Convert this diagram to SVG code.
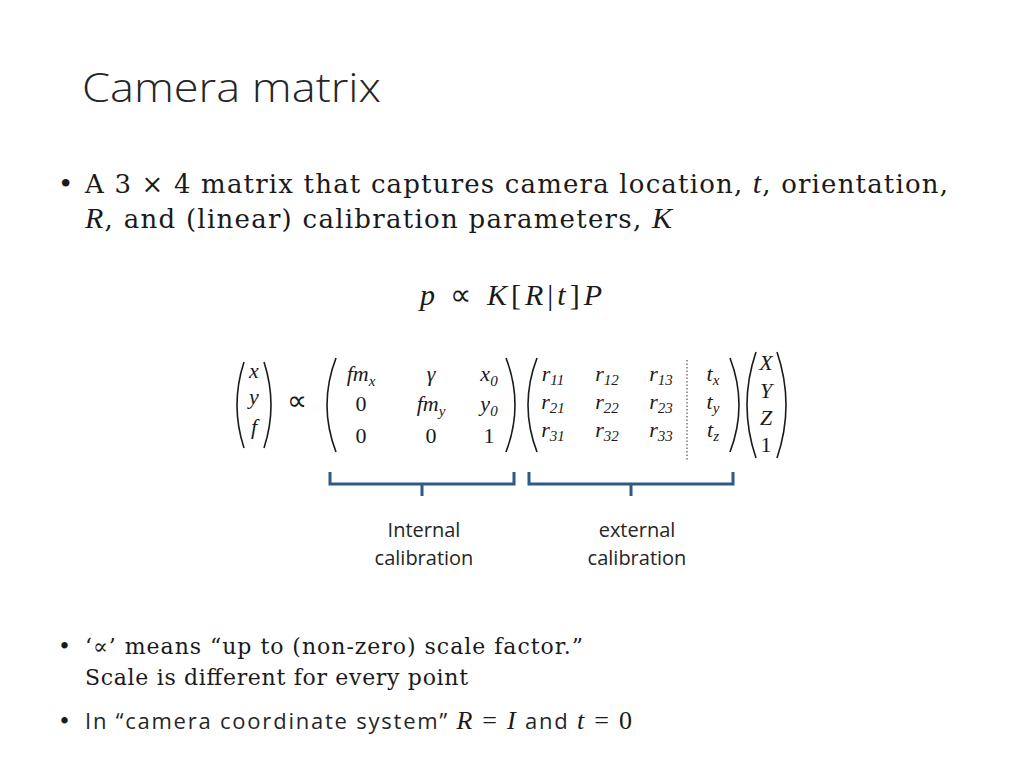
<svg xmlns="http://www.w3.org/2000/svg" width="1024" height="768" viewBox="0 0 1024 768">
<style>
.t{font-family:"Open Sans","Liberation Sans",sans-serif;fill:#262626}
.s{font-family:"DejaVu Serif","Liberation Serif",serif;fill:#1a1a1a}
.m{font-family:"Liberation Serif",serif;font-style:italic;fill:#1a1a1a}
.n{font-family:"Liberation Serif",serif;fill:#1a1a1a}
.p{fill:none;stroke:#1a1a1a;stroke-width:1.6}
.b{fill:none;stroke:#2f5a88;stroke-width:3}
.sb{font-size:15px}
</style>
<rect width="1024" height="768" fill="#fff"/>
<text class="t" x="82" y="102" font-size="40" font-weight="300" textLength="299" lengthAdjust="spacingAndGlyphs">Camera matrix</text>
<g font-size="26">
<text class="s" x="58" y="193">•</text>
<text class="s" x="85" y="193" textLength="863">A 3 × 4 matrix that captures camera location, <tspan class="m" font-size="30">t</tspan>, orientation,</text>
<text class="s" x="85" y="228" textLength="587"><tspan class="m" font-size="30">R</tspan>, and (linear) calibration parameters, <tspan class="m" font-size="30">K</tspan></text>
<text class="n" x="420" y="305" font-size="30" textLength="182"><tspan class="m">p</tspan> ∝ <tspan class="m">K</tspan>[<tspan class="m">R</tspan>|<tspan class="m">t</tspan>]<tspan class="m">P</tspan></text>
</g>
<g font-size="22" text-anchor="middle">
<text class="m" x="254" y="378">x</text><text class="m" x="254" y="404">y</text><text class="m" x="254" y="434">f</text>
<path class="p" d="M244 362 Q230 405 244 448"/><path class="p" d="M264 362 Q278 405 264 448"/>
<text class="n" x="297" y="410" font-size="28">∝</text>
<path class="p" d="M336 358 Q318 405 336 452"/><path class="p" d="M506 358 Q524 405 506 452"/>
<text class="m" x="361" y="381">fm<tspan class="sb" dy="5">x</tspan></text>
<text class="m" x="431" y="381">γ</text>
<text class="m" x="489" y="381">x<tspan class="sb n" dy="5">0</tspan></text>
<text class="n" x="361" y="411">0</text>
<text class="m" x="431" y="411">fm<tspan class="sb" dy="5">y</tspan></text>
<text class="m" x="489" y="411">y<tspan class="sb n" dy="5">0</tspan></text>
<text class="n" x="361" y="443">0</text><text class="n" x="431" y="443">0</text><text class="n" x="489" y="443">1</text>
<path class="p" d="M537 358 Q519 405 537 452"/><path class="p" d="M730 358 Q748 405 730 452"/>
<text class="m" x="553" y="381">r<tspan class="sb n" dy="4">11</tspan></text>
<text class="m" x="607" y="381">r<tspan class="sb n" dy="4">12</tspan></text>
<text class="m" x="661" y="381">r<tspan class="sb n" dy="4">13</tspan></text>
<text class="m" x="713" y="381">t<tspan class="sb" dy="4">x</tspan></text>
<text class="m" x="553" y="409">r<tspan class="sb n" dy="4">21</tspan></text>
<text class="m" x="607" y="409">r<tspan class="sb n" dy="4">22</tspan></text>
<text class="m" x="661" y="409">r<tspan class="sb n" dy="4">23</tspan></text>
<text class="m" x="713" y="409">t<tspan class="sb" dy="4">y</tspan></text>
<text class="m" x="553" y="437">r<tspan class="sb n" dy="4">31</tspan></text>
<text class="m" x="607" y="437">r<tspan class="sb n" dy="4">32</tspan></text>
<text class="m" x="661" y="437">r<tspan class="sb n" dy="4">33</tspan></text>
<text class="m" x="713" y="437">t<tspan class="sb" dy="4">z</tspan></text>
<line x1="687" y1="360" x2="687" y2="460" stroke="#333" stroke-width="1" stroke-dasharray="1.5 2"/>
<path class="p" d="M756 352 Q738 405 756 458"/><path class="p" d="M777 352 Q795 405 777 458"/>
<text class="m" x="766" y="370">X</text><text class="m" x="766" y="398">Y</text><text class="m" x="766" y="425">Z</text><text class="n" x="766" y="452">1</text>
</g>
<path class="b" d="M330 472 V484 H422 V496 M422 484 H514 V472"/>
<path class="b" d="M529 472 V484 H631 V496 M631 484 H733 V472"/>
<g class="t" font-size="20" text-anchor="middle">
<text x="424" y="537">Internal</text><text x="424" y="565">calibration</text>
<text x="637" y="537">external</text><text x="637" y="565">calibration</text>
</g>
<g font-size="22">
<text class="s" x="58" y="654">•</text>
<text class="s" x="85" y="654" textLength="498">‘∝’ means “up to (non-zero) scale factor.”</text>
<text class="s" x="85" y="685" textLength="383">Scale is different for every point</text>
<text class="s" x="58" y="729">•</text>
<text class="t" x="85" y="729" font-size="22" textLength="547">In “camera coordinate system” <tspan class="m" font-size="26">R</tspan><tspan class="n" font-size="26"> = </tspan><tspan class="m" font-size="26">I</tspan> and <tspan class="m" font-size="26">t</tspan><tspan class="n" font-size="26"> = 0</tspan></text>
</g>
</svg>
